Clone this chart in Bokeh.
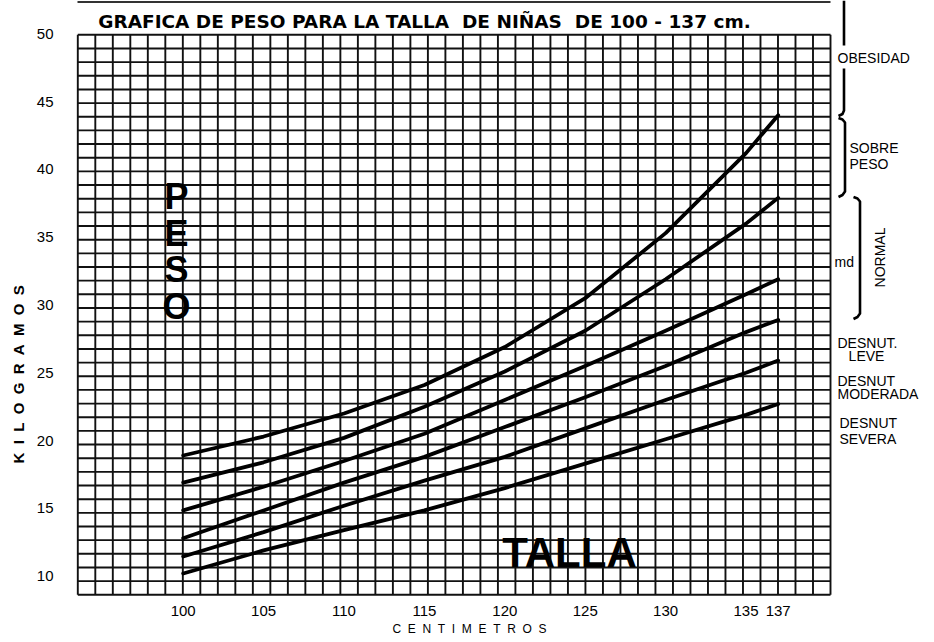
import math
from bokeh.plotting import figure
from bokeh.models import Range1d, FixedTicker, Title
from bokeh.core.properties import value
from bokeh.embed import file_html
from bokeh.resources import INLINE

# ---------------- data ----------------
talla = [100, 105, 110, 115, 120, 125, 130, 135, 137]
obesidad = [18.9, 20.3, 22.0, 24.1, 26.9, 30.5, 35.3, 41.2, 44.0]
sobrepeso = [16.9, 18.4, 20.2, 22.5, 25.1, 28.1, 31.9, 36.0, 37.9]
mediana = [14.85, 16.6, 18.5, 20.5, 23.0, 25.5, 28.1, 30.8, 31.9]
desnut_leve = [12.8, 14.85, 16.9, 18.8, 21.0, 23.2, 25.5, 28.0, 28.9]
desnut_moderada = [11.45, 13.25, 15.2, 17.05, 18.8, 20.9, 23.0, 25.0, 25.9]
desnut_severa = [10.2, 11.9, 13.4, 14.85, 16.5, 18.3, 20.1, 21.9, 22.7]

x_ticks = [100, 105, 110, 115, 120, 125, 130, 135, 137]
y_ticks = [10, 15, 20, 25, 30, 35, 40, 45, 50]

title_text = "GRAFICA DE PESO PARA LA TALLA\u00a0 DE NIÑAS\u00a0 DE 100 - 137 cm."

# ---------------- layout helpers (canvas pixels -> data units) ----------------
PX_CM = 16.081   # pixels per cm
PX_KG = 13.56    # pixels per kg
X100 = 182.7     # canvas x of 100 cm
Y50 = 33.3       # canvas y of 50 kg


def px2x(px):
    return 100 + (px - X100) / PX_CM


def px2y(py):
    return 50 - (py - Y50) / PX_KG


W, H = 932, 640
FRAME_L, FRAME_B = 75, 596
p = figure(width=W, height=H,
           x_range=Range1d(px2x(FRAME_L), px2x(W)),
           y_range=Range1d(px2y(FRAME_B), px2y(0)),
           min_border_left=FRAME_L, min_border_right=0, min_border_top=0,
           min_border_bottom=H - FRAME_B,
           toolbar_location=None, output_backend="svg")
p.grid.visible = False
p.outline_line_color = None
p.background_fill_color = "white"
p.border_fill_color = "white"

for ax in (p.xaxis[0], p.yaxis[0]):
    ax.axis_line_color = None
    ax.major_tick_line_color = None
    ax.minor_tick_line_color = None
    ax.major_label_text_font = "Liberation Sans"
    ax.major_label_text_font_size = "15px"
    ax.major_label_text_color = "black"
p.xaxis.ticker = FixedTicker(ticks=x_ticks)
p.yaxis.ticker = FixedTicker(ticks=y_ticks)
p.xaxis.major_label_standoff = 3
p.yaxis.major_label_standoff = 16

# axis titles (letter-spaced) placed in the side panels
NB = "\u00a0\u00a0"
p.add_layout(Title(text=NB.join("KILOGRAMOS"), align="left", offset=FRAME_B - 463,
                   standoff=13, text_font="Liberation Sans", text_font_style="bold",
                   text_font_size="15px", text_color="black"), "left")
p.add_layout(Title(text=NB.join("CENTIMETROS"), align="left", offset=392 - FRAME_L,
                   standoff=2, text_font="Liberation Sans", text_font_style="normal",
                   text_font_size="12px", text_color="black"), "below")

# ---------------- decorative grid (graph paper) ----------------
GX0, GX1 = px2x(77.3), px2x(830)
GY0, GY1 = px2y(594.3), px2y(34.3)
NCX, NCY = 43, 41
gx = [GX0 + k * (GX1 - GX0) / NCX for k in range(NCX + 1)]
gy = [GY0 + k * (GY1 - GY0) / NCY for k in range(NCY + 1)]
grid_col = "#111111"
p.segment(x0=gx, y0=[GY0] * len(gx), x1=gx, y1=[GY1] * len(gx),
          line_color=grid_col, line_width=1.9)
p.segment(x0=[GX0] * len(gy), y0=gy, x1=[GX1] * len(gy), y1=gy,
          line_color=grid_col, line_width=1.9)

# ---------------- curves ----------------
for serie in (obesidad, sobrepeso, mediana, desnut_leve, desnut_moderada, desnut_severa):
    p.line(talla, serie, line_color="black", line_width=3.8,
           line_join="round", line_cap="round")

# ---------------- title and top rule ----------------
p.segment(x0=[px2x(77)], y0=[px2y(1.5)], x1=[px2x(830)], y1=[px2y(1.5)],
          line_color="#333333", line_width=2)
p.text(x=[px2x(424)], y=[px2y(21)], text=[title_text],
       text_font=value("DejaVu Sans"), text_font_style="bold",
       text_font_size="18.5px", text_align="center", text_baseline="middle",
       text_color="black")

# big labels inside the grid
p.text(x=[px2x(176)], y=[px2y(251)], text=["P\nE\nS\nO"],
       text_font=value("Liberation Sans"), text_font_style="bold",
       text_font_size="36px", text_align="center", text_baseline="middle",
       text_line_height=0.89, text_color="black")
p.text(x=[px2x(569)], y=[px2y(552)], text=["TALLA"],
       text_font=value("Liberation Sans"), text_font_style="bold",
       text_font_size="42px", text_align="center", text_baseline="middle",
       text_color="black")

# ---------------- brackets on the right ----------------
def bracket(pts):
    p.line([px2x(a) for a, b in pts], [px2y(b) for a, b in pts],
           line_color="black", line_width=2.6, line_join="round")


bracket([(843.5, 0), (843.5, 45)])
bracket([(843.5, 68), (843.5, 110), (842, 113.5), (838, 115.5)])
bracket([(838, 117.5), (842, 119), (844.5, 122), (844.5, 191), (842, 194.5), (838, 196.5)])
bracket([(853, 196.5), (857, 198), (859.5, 201), (859.5, 313), (857, 316.5), (853, 318.5)])

lab_font = value("Liberation Sans")


def rlabel(px, py, txt, align="left", angle=0.0):
    p.text(x=[px2x(px)], y=[px2y(py)], text=[txt], angle=angle,
           text_font=lab_font, text_font_size="14px", text_align=align,
           text_baseline="middle", text_color="black")


rlabel(837, 57, "OBESIDAD")
rlabel(849, 147, "SOBRE")
rlabel(849, 163, "PESO")
rlabel(834, 261, "md")
rlabel(879, 257, "NORMAL", align="center", angle=math.pi / 2)
rlabel(837, 342, "DESNUT.")
rlabel(866, 355, "LEVE", align="center")
rlabel(837, 380, "DESNUT")
rlabel(837, 393, "MODERADA")
rlabel(839, 422, "DESNUT")
rlabel(839, 438, "SEVERA")

open("out.html", "w").write(file_html(p, INLINE))
